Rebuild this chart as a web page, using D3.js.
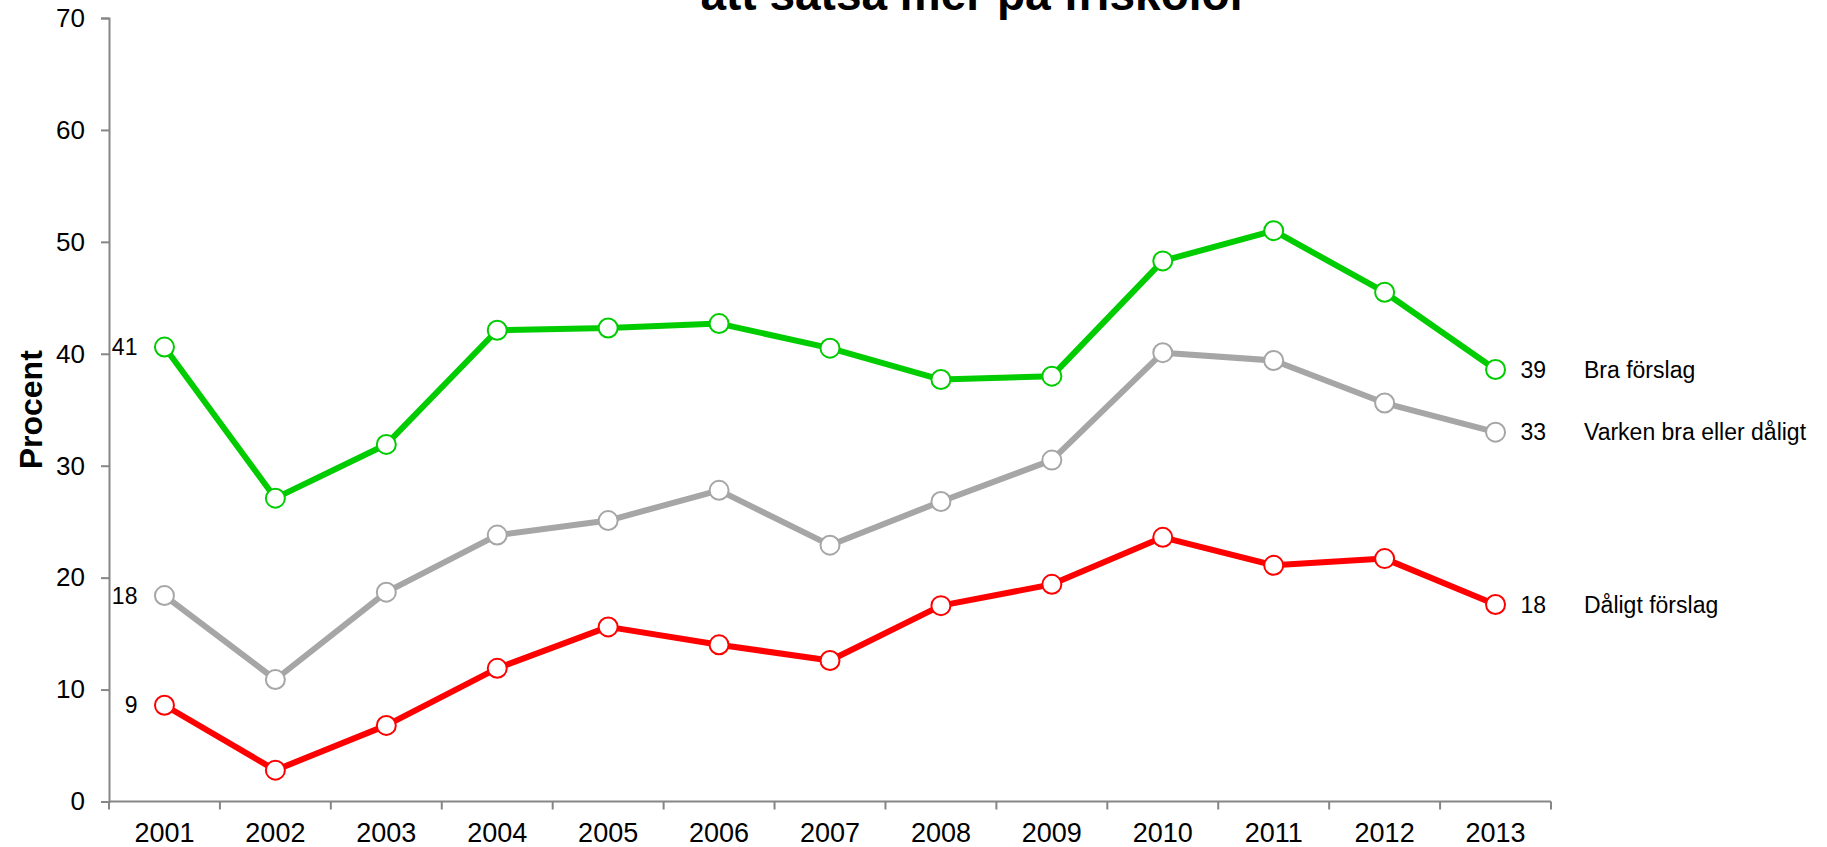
<!DOCTYPE html>
<html>
<head>
<meta charset="utf-8">
<script src="https://cdn.jsdelivr.net/npm/d3@7"></script>
<style>
  body { margin: 0; background: #fff; }
  svg { display: block; font-family: "Liberation Sans", Arial, sans-serif; }
</style>
</head>
<body>
<svg id="chart"></svg>
<script>
// years on the x axis
const years = ['2001','2002','2003','2004','2005','2006','2007','2008','2009','2010','2011','2012','2013'];

// percent per year
const braForslag = [40.6, 27.1, 31.9, 42.1, 42.3, 42.7, 40.5, 37.7, 38.0, 48.3, 51.0, 45.5, 38.6];
const varken     = [18.4, 10.9, 18.7, 23.8, 25.1, 27.8, 22.9, 26.8, 30.5, 40.1, 39.4, 35.6, 33.0];
const daligt     = [8.6, 2.8, 6.8, 11.9, 15.6, 14.0, 12.6, 17.5, 19.4, 23.6, 21.1, 21.7, 17.6];

const seriesNames = ['Bra förslag', 'Varken bra eller dåligt', 'Dåligt förslag'];
const yTicks = [0, 10, 20, 30, 40, 50, 60, 70];
const titleText = 'att satsa mer på friskolor';
const yLabel = 'Procent';

const series = [
  { name: seriesNames[0], values: braForslag, color: '#00cc00' },
  { name: seriesNames[1], values: varken, color: '#a6a6a6' },
  { name: seriesNames[2], values: daligt, color: '#ff0000' }
];

const width = 1827, height = 847;
const margin = { left: 109, right: 276, top: 18, bottom: 45.5 };

const svg = d3.select('#chart')
    .attr('width', width)
    .attr('height', height);

const x = d3.scaleBand()
    .domain(years)
    .range([margin.left, width - margin.right]);

const y = d3.scaleLinear()
    .domain([0, 70])
    .range([height - margin.bottom, margin.top]);

// title (only its lower line shows, cut at the top edge like the original)
svg.append('text')
    .attr('x', 974)
    .attr('y', 10)
    .attr('text-anchor', 'middle')
    .attr('font-size', 46)
    .attr('font-weight', 'bold')
    .text(titleText);

// y axis
const yAxis = svg.append('g')
    .attr('transform', `translate(${margin.left},0)`)
    .call(d3.axisLeft(y).tickValues(yTicks).tickSize(8).tickPadding(16));
yAxis.selectAll('text').attr('font-size', 26).attr('fill', '#000').attr('font-family', null);

// x axis
const xAxis = svg.append('g')
    .attr('transform', `translate(0,${y(0)})`)
    .call(d3.axisBottom(x).tickSize(0).tickPadding(21));
xAxis.selectAll('text').attr('font-size', 27).attr('fill', '#000').attr('font-family', null);

// category boundary ticks
const bounds = years.map(d => x(d)).concat([x.range()[1]]);
xAxis.selectAll('.bound')
  .data(bounds)
  .join('line')
    .attr('class', 'bound')
    .attr('x1', d => d).attr('x2', d => d)
    .attr('y1', 0).attr('y2', 8);

svg.selectAll('.domain, .tick line, .bound')
    .attr('stroke', '#868686')
    .attr('stroke-width', 2);
xAxis.select('.domain').attr('d', `M${x.range()[0]},0H${x.range()[1]}`);

// y label
svg.append('text')
    .attr('transform', `translate(42,${y(35)}) rotate(-90)`)
    .attr('text-anchor', 'middle')
    .attr('font-size', 32)
    .attr('font-weight', 'bold')
    .text(yLabel);

const cx = i => x(years[i]) + x.bandwidth() / 2;

const line = d3.line()
    .x((d, i) => cx(i))
    .y(d => y(d));

series.forEach(s => {
  svg.append('path')
      .datum(s.values)
      .attr('fill', 'none')
      .attr('stroke', s.color)
      .attr('stroke-width', 6)
      .attr('stroke-linejoin', 'round')
      .attr('d', line);

  svg.selectAll(null)
    .data(s.values)
    .join('circle')
      .attr('cx', (d, i) => cx(i))
      .attr('cy', d => y(d))
      .attr('r', 9.5)
      .attr('fill', '#fff')
      .attr('stroke', s.color)
      .attr('stroke-width', 2);

  const first = s.values[0], last = s.values[s.values.length - 1];

  // start value label
  svg.append('text')
      .attr('x', cx(0) - 27)
      .attr('y', y(first))
      .attr('dy', '0.35em')
      .attr('text-anchor', 'end')
      .attr('font-size', 23)
      .text(Math.round(first));

  // end value label and series name
  svg.append('text')
      .attr('x', cx(years.length - 1) + 25)
      .attr('y', y(last))
      .attr('dy', '0.35em')
      .attr('font-size', 23)
      .text(Math.round(last));

  svg.append('text')
      .attr('x', 1584)
      .attr('y', y(last))
      .attr('dy', '0.35em')
      .attr('font-size', 23)
      .text(s.name);
});
</script>
</body>
</html>
